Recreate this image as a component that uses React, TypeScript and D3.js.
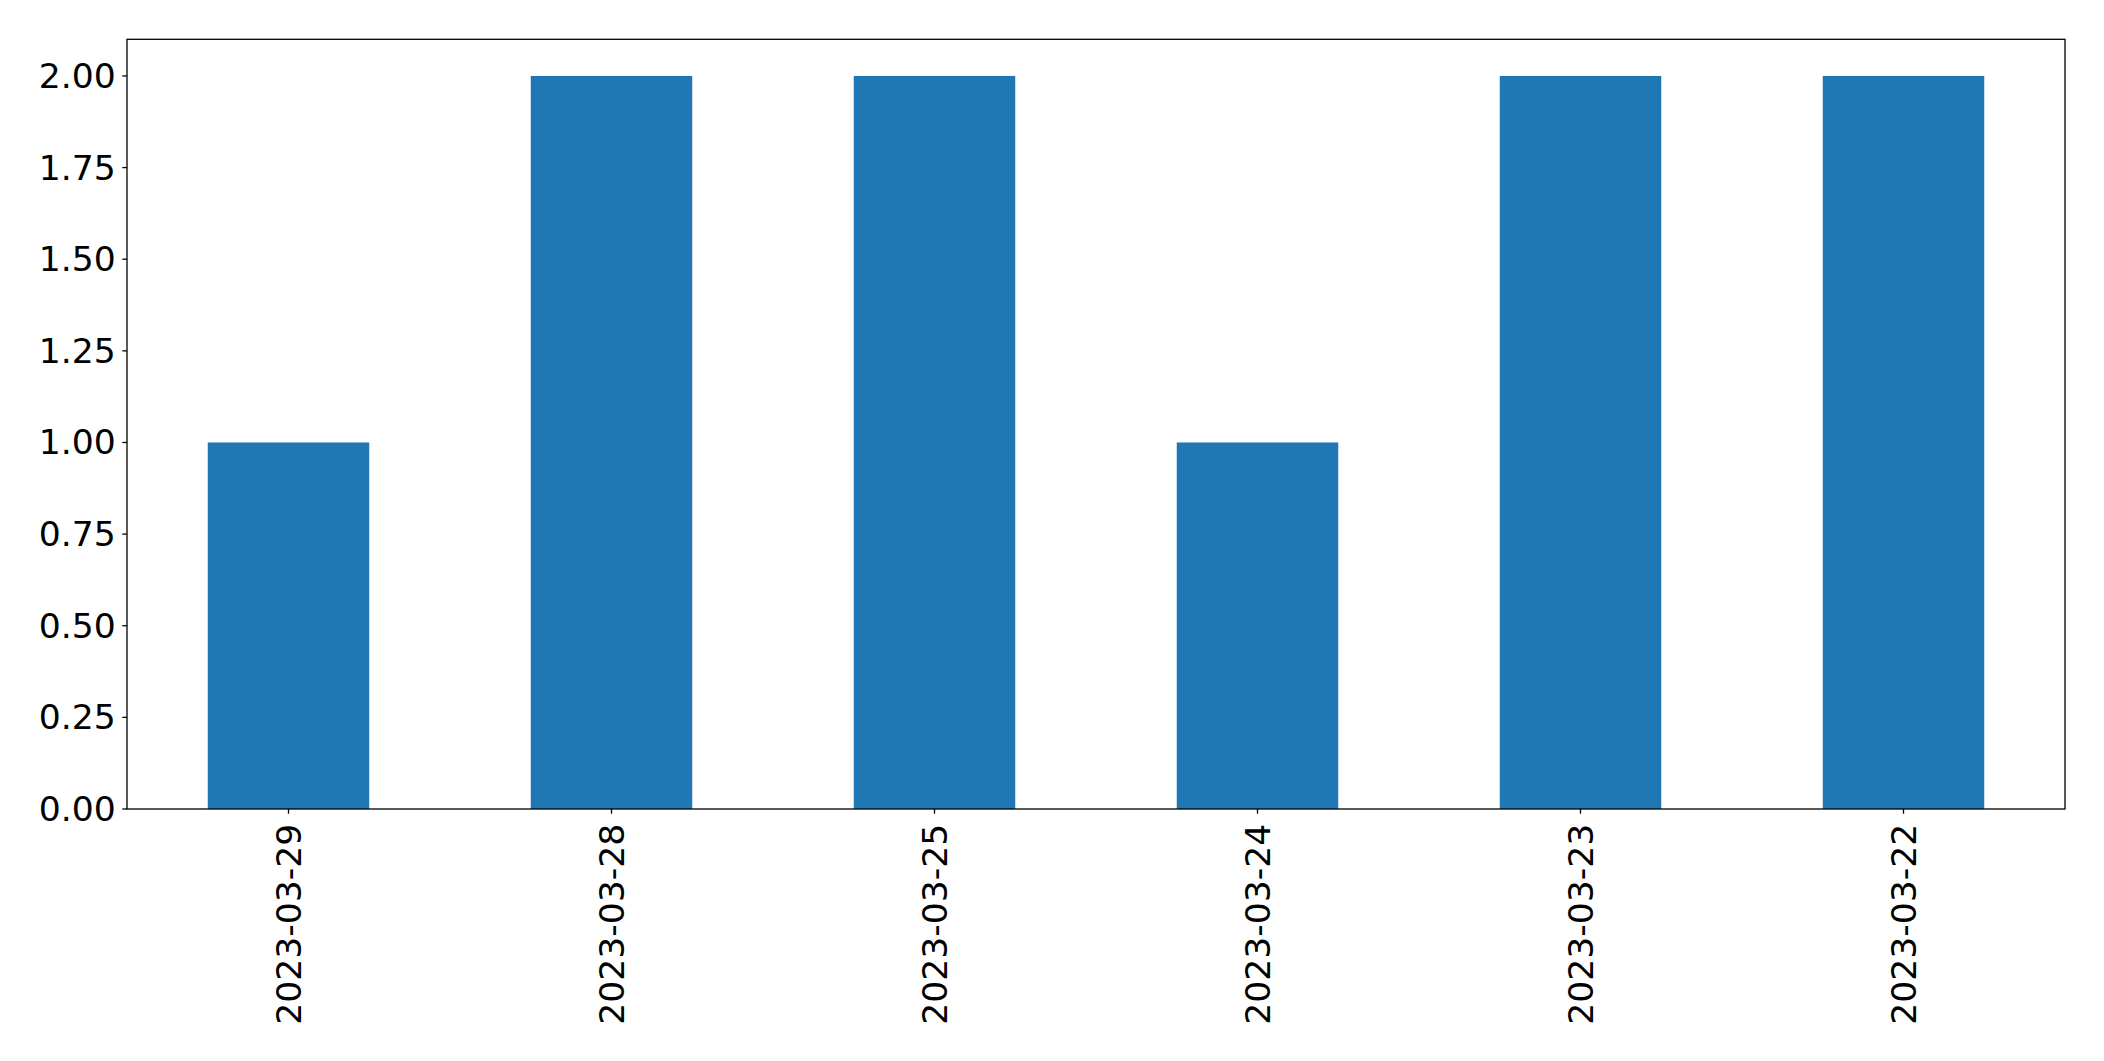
import React from "react";
import * as d3 from "d3";

const categories = ["2023-03-29", "2023-03-28", "2023-03-25", "2023-03-24", "2023-03-23", "2023-03-22"];
const values = [1, 2, 2, 1, 2, 2];
const yTicks = [0, 0.25, 0.5, 0.75, 1.0, 1.25, 1.5, 1.75, 2.0];

const W = 2104;
const H = 1061;
const left = 127;
const right = 2065;
const top = 39.3;
const bottom = 809;
const FONT = "DejaVu Sans";
const FS = 34.6;

export default function App() {
  const x = d3.scaleBand<string>().domain(categories).range([left, right]).paddingInner(0.5).paddingOuter(0.25);
  const y = d3.scaleLinear().domain([0, 2.1]).range([bottom, top]);
  const tickLen = 4.7;
  return (
    <svg width={W} height={H} style={{ position: "absolute", left: 0, top: 0, background: "#fff" }}>
      <rect x={0} y={0} width={W} height={H} fill="#fff" />
      {categories.map((c, i) => (
        <rect key={c} x={x(c)!} y={y(values[i])} width={x.bandwidth()} height={y(0) - y(values[i])} fill="#1f77b4" />
      ))}
      <rect x={left} y={top} width={right - left} height={bottom - top} fill="none" stroke="#000" strokeWidth={1.3} />
      {yTicks.map((t) => (
        <g key={t}>
          <line x1={left - tickLen} x2={left} y1={y(t)} y2={y(t)} stroke="#000" strokeWidth={1.3} />
          <text x={left - tickLen - 6.5} y={y(t)} textAnchor="end" dominantBaseline="central" fontFamily={FONT} fontSize={FS} fill="#000">
            {t.toFixed(2)}
          </text>
        </g>
      ))}
      {categories.map((c) => {
        const cx = x(c)! + x.bandwidth() / 2;
        const ty = bottom + tickLen + 10;
        return (
          <g key={c}>
            <line x1={cx} x2={cx} y1={bottom} y2={bottom + tickLen} stroke="#000" strokeWidth={1.3} />
            <text
              transform={`translate(${cx},${ty}) rotate(-90)`}
              textAnchor="end"
              dominantBaseline="central"
              fontFamily={FONT}
              fontSize={FS}
              fill="#000"
            >
              {c}
            </text>
          </g>
        );
      })}
    </svg>
  );
}
